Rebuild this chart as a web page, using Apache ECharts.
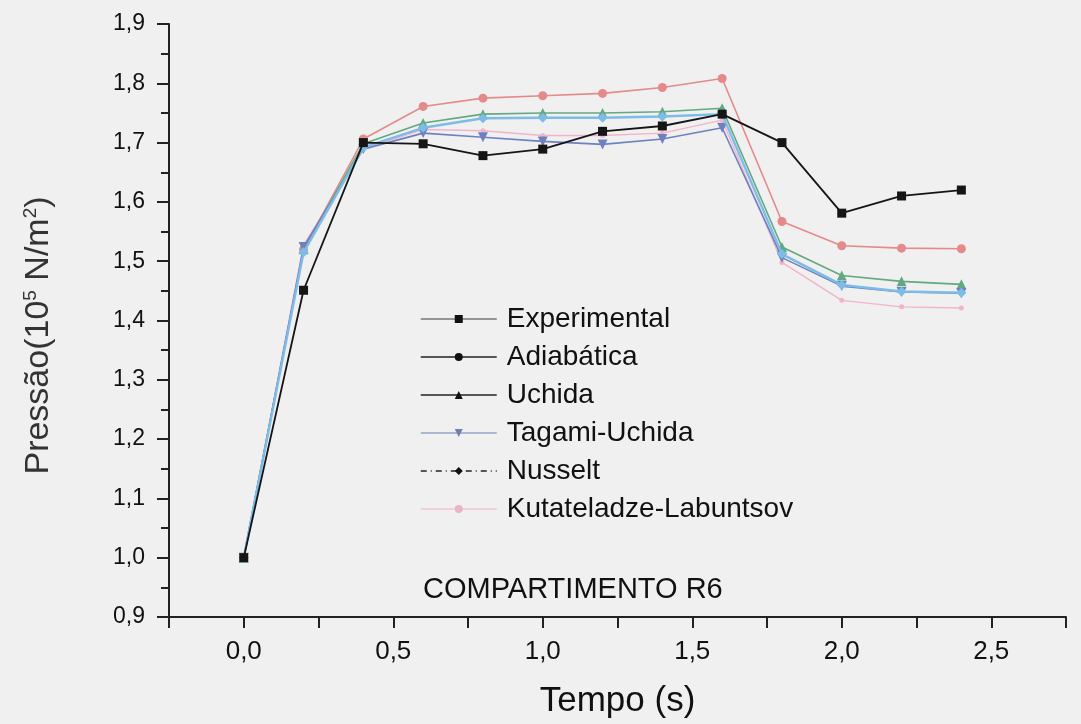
<!DOCTYPE html>
<html>
<head>
<meta charset="utf-8">
<script src="https://cdn.jsdelivr.net/npm/echarts@6/dist/echarts.min.js"></script>
<style>
html,body{margin:0;padding:0;background:#f0f0f0;}
#c{width:1081px;height:724px;}
</style>
</head>
<body>
<div id="c"></div>
<script>
const times = [0.0, 0.2, 0.4, 0.6, 0.8, 1.0, 1.2, 1.4, 1.6, 1.8, 2.0, 2.2, 2.4];
const experimental = [1.00, 1.451, 1.70, 1.698, 1.678, 1.689, 1.719, 1.728, 1.748, 1.700, 1.581, 1.610, 1.620];
const adiabatica   = [1.00, 1.520, 1.706, 1.761, 1.775, 1.779, 1.783, 1.793, 1.808, 1.567, 1.526, 1.522, 1.521];
const uchida       = [1.00, 1.520, 1.698, 1.733, 1.748, 1.750, 1.750, 1.752, 1.758, 1.524, 1.476, 1.466, 1.461];
const tagamiUchida = [1.00, 1.524, 1.689, 1.716, 1.709, 1.702, 1.697, 1.706, 1.725, 1.506, 1.458, 1.448, 1.446];
const nusselt      = [1.00, 1.515, 1.692, 1.725, 1.741, 1.742, 1.742, 1.744, 1.748, 1.512, 1.460, 1.449, 1.447];
const kutateladze  = [1.00, 1.527, 1.690, 1.722, 1.720, 1.712, 1.712, 1.716, 1.738, 1.498, 1.434, 1.423, 1.421];
const seriesNames = ['Experimental','Adiabática','Uchida','Tagami-Uchida','Nusselt','Kutateladze-Labuntsov'];
const xTickLabels = ['0,0','0,5','1,0','1,5','2,0','2,5'];

function pairs(arr){ return times.map((t,i)=>[t, arr[i]]); }

const chart = echarts.init(document.getElementById('c'));
const fam = '"Liberation Sans", Arial, sans-serif';
const styles = [
  {data: experimental, color:'#151515', symbol:'rect', size:9, width:1.8},
  {data: adiabatica, color:'#e48a8a', symbol:'circle', size:9, width:1.6},
  {data: uchida, color:'#62a880', symbol:'triangle', size:10, width:1.6},
  {data: tagamiUchida, color:'#6e80c0', symbol:'path://M0,0 L10,0 L5,10 Z', size:10, width:1.6},
  {data: nusselt, color:'#7cbce6', symbol:'diamond', size:10, width:2.4},
  {data: kutateladze, color:'#f2b4c8', symbol:'circle', size:5, width:1.4}
];
const legendIcons = [
  {line:'#777', item:'#111', type:'solid'},
  {line:'#222', item:'#111', type:'solid'},
  {line:'#222', item:'#111', type:'solid'},
  {line:'#9aa4c4', item:'#7080b0', type:'solid'},
  {line:'#222', item:'#111', type:[6,4,1,4]},
  {line:'#f2c4d4', item:'#eab4c8', type:'solid'}
];
const z = [6,2,3,4,5,1];
chart.setOption({
  backgroundColor:'#f0f0f0',
  animation:false,
  grid:{left:169, right:15, top:24, bottom:107},
  legend:{
    orient:'vertical', left:415, top:300, itemGap:10, itemWidth:76, itemHeight:10,
    textStyle:{fontFamily:fam, fontSize:28, lineHeight:28, color:'#111', padding:[0,0,0,5]},
    data: seriesNames.map((n,i)=>({
      name:n,
      itemStyle:{color:legendIcons[i].item},
      lineStyle:{color:legendIcons[i].line, width:1.5, type:legendIcons[i].type}
    }))
  },
  xAxis:{
    type:'value', min:-0.25, max:2.75, interval:0.25,
    axisLine:{show:true, onZero:false, lineStyle:{color:'#222', width:2}},
    axisTick:{show:true, length:11, inside:false, lineStyle:{color:'#222', width:2}},
    splitLine:{show:false},
    axisLabel:{
      fontFamily:fam, fontSize:26, color:'#111', margin:22,
      formatter:function(v){
        const k = Math.round(v*100);
        if (k % 50 !== 0 || k < 0) return '';
        return xTickLabels[k/50] || '';
      }
    },
    name:'Tempo (s)', nameLocation:'middle', nameGap:67,
    nameTextStyle:{fontFamily:fam, fontSize:35, color:'#111'}
  },
  yAxis:{
    type:'value', min:0.9, max:1.9, interval:0.1,
    axisLine:{show:true, onZero:false, lineStyle:{color:'#222', width:2}},
    axisTick:{show:true, length:12, lineStyle:{color:'#222', width:2}},
    minorTick:{show:true, splitNumber:2, length:8, lineStyle:{color:'#222', width:2}},
    splitLine:{show:false},
    axisLabel:{fontFamily:fam, fontSize:23, color:'#111', margin:24,
      formatter:function(v){ return v.toFixed(1).replace('.', ','); }},
    name:'{a|Pressão(10}{s|5}{a| N/m}{s|2}{a|)}', nameLocation:'middle', nameGap:113, nameRotate:90,
    nameTextStyle:{
      padding:[0,30,0,0],
      rich:{
        a:{fontFamily:fam, fontSize:34, color:'#333'},
        s:{fontFamily:fam, fontSize:19, color:'#333', padding:[0,0,16,0]}
      }
    }
  },
  graphic:[{
    type:'text', left:423, top:575,
    style:{text:'COMPARTIMENTO R6', fontFamily:fam, fontSize:29, fill:'#111'}
  }],
  series: styles.map((s,i)=>({
    name: seriesNames[i], type:'line', data: pairs(s.data),
    symbol: s.symbol, symbolSize: s.size, z: z[i],
    lineStyle:{color:s.color, width:s.width},
    itemStyle:{color:s.color},
    emphasis:{disabled:true}
  }))
});
</script>
</body>
</html>
